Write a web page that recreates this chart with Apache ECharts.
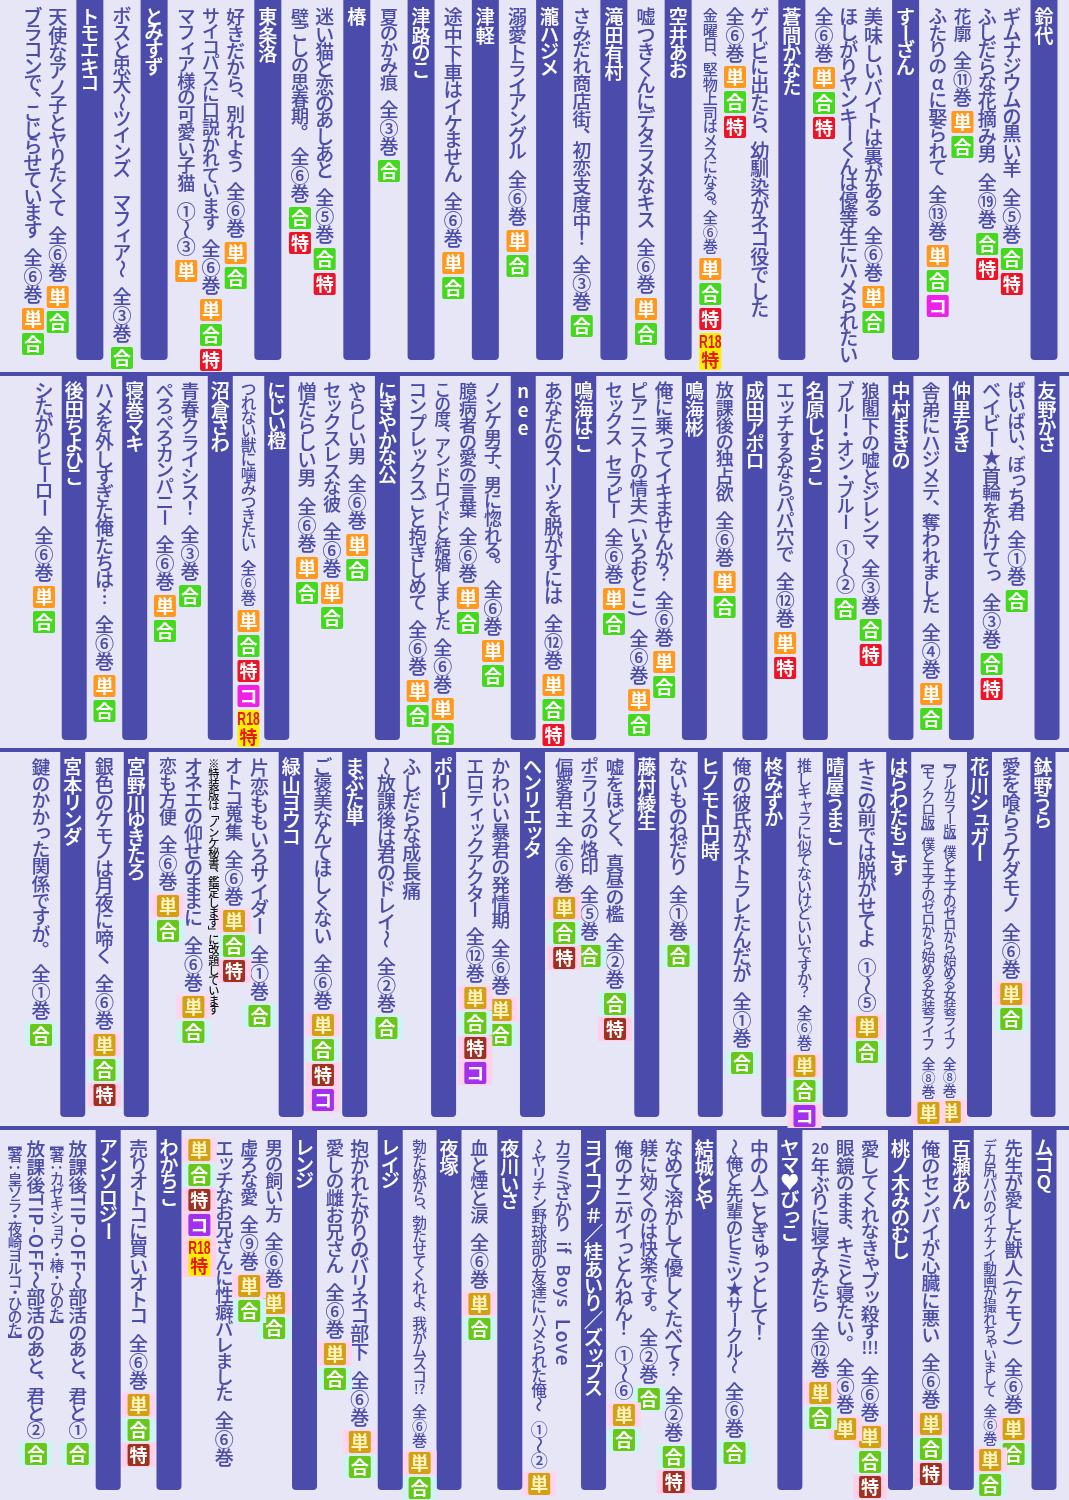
<!DOCTYPE html>
<html>
<head>
<meta charset="utf-8">
<script src="https://cdn.jsdelivr.net/npm/echarts@6/dist/echarts.min.js"></script>
<style>
html,body{margin:0;padding:0;background:#e6e6f6}
#main{width:1069px;height:1500px}
</style>
</head>
<body>
<div id="main"></div>
<script>
// a = author bar, t = title column: text, badges (R = R18特), depth where the text run ends
const ROW_1 = [
  ['a','鈴代'],
  ['t','ギムナジウムの黒い羊 全⑤巻','合特',248],
  ['t','ふしだらな花摘み男 全⑲巻','合特',233],
  ['t','花廓 全⑪巻','単合',111],
  ['t','ふたりのαに娶られて 全⑬巻','単合コ',245],
  ['a','すーざん'],
  ['t','美味しいバイトは裏がある 全⑥巻','単合',286],
  ['t','ほしがりヤンキーくんは優等生にハメられたい','',367],
  ['t','全⑥巻','単合特',67],
  ['a','蒼間かなた'],
  ['t','ゲイビに出たら、幼馴染がネコ役でした','',321],
  ['t','全⑥巻','単合特',66],
  ['t','金曜日、堅物上司はメスになる。全⑥巻','単合特R',258],
  ['a','空井あお'],
  ['t','嘘つきくんにデタラメなキス 全⑥巻','単合',298],
  ['a','滝田有村'],
  ['t','さみだれ商店街、初恋支度中！ 全③巻','合',315],
  ['a','瀧ハジメ'],
  ['t','溺愛トライアングル 全⑥巻','単合',230],
  ['a','津軽'],
  ['t','途中下車はイケません 全⑥巻','単合',252],
  ['a','津路のこ'],
  ['t','夏のかみ痕 全③巻','合',160],
  ['a','椿'],
  ['t','迷い猫と恋のあしあと 全⑤巻','合特',248],
  ['t','壁ごしの思春期。 全⑥巻','合特',207],
  ['a','東条洛'],
  ['t','好きだから、別れよう 全⑥巻','単合',242],
  ['t','サイコパスに口説かれています 全⑥巻','単合特',299],
  ['t','マフィア様の可愛い子猫 ①～③','単',260],
  ['a','とみすず'],
  ['t','ボスと忠犬～ツインズ　マフィア～ 全③巻','合',347],
  ['a','トモエキコ'],
  ['t','天使なアノ子とヤりたくて 全⑥巻','単合',286],
  ['t','ブラコンで、こじらせています 全⑥巻','単合',308]
];
const ROW_2 = [
  ['a','友野かさ'],
  ['t','ばいばい、ぼっち君 全①巻','合',214],
  ['t','ベイビー★首輪をかけてっ 全③巻','合特',277],
  ['a','仲里ちき'],
  ['t','舎弟にハジメテ、奪われました 全④巻','単合',307],
  ['a','中村まきの'],
  ['t','狼閣下の嘘とジレンマ 全③巻','合特',243],
  ['t','ブルー・オン・ブルー ①～②','合',222],
  ['a','名原しょうこ'],
  ['t','エッチするならパパ穴で 全⑫巻','単特',256],
  ['a','成田アポロ'],
  ['t','放課後の独占欲 全⑥巻','単合',195],
  ['a','鳴海彬'],
  ['t','俺に乗ってイキませんか？ 全⑥巻','単合',275],
  ['t','ピアニストの情夫(いろおとこ) 全⑥巻','単合',313],
  ['t','セックス セラピー 全⑥巻','単合',212],
  ['a','鳴海はこ'],
  ['t','あなたのスーツを脱がすには 全⑫巻','単合特',298],
  ['a','nee'],
  ['t','ノンケ男子、男に惚れる。 全⑥巻','単合',264],
  ['t','臆病者の愛の言葉 全⑥巻','単合',211],
  ['t','この度、アンドロイドと結婚しました 全⑥巻','単合',322],
  ['t','コンプレックスごと抱きしめて 全⑥巻','単合',304],
  ['a','にぎやかな公'],
  ['t','やらしい男 全⑥巻','単合',158],
  ['t','セックスレスな彼 全⑥巻','単合',206],
  ['t','憎たらしい男 全⑥巻','単合',181],
  ['a','にじい橙'],
  ['t','つれない獣に噛みつきたい 全⑥巻','単合特コR',234],
  ['a','沼倉さわ'],
  ['t','青春クライシス！ 全③巻','合',209],
  ['t','ぺろぺろカンパニー 全⑥巻','単合',219],
  ['a','寝巻マキ'],
  ['t','ハメを外しすぎた俺たちは… 全⑥巻','単合',299],
  ['a','後田ちよひこ'],
  ['t','シたがりヒーロー 全⑥巻','単合',210]
];
const ROW_3 = [
  ['a','鉢野うら'],
  ['t','愛を喰らうケダモノ 全⑥巻','単合',231],
  ['a','花川シュガー'],
  ['t','【フルカラー版】僕と王子のゼロから始める女装ライフ 全⑧巻','単',349],
  ['t','【モノクロ版】僕と王子のゼロから始める女装ライフ 全⑧巻','単',350],
  ['a','はらわたもこす'],
  ['t','キミの前では脱がせてよ ①～⑤','単合',264],
  ['a','晴屋うまこ'],
  ['t','推しキャラに似てないけどいいですか？ 全⑥巻','単合コ',303],
  ['a','柊みずか'],
  ['t','俺の彼氏がネトラレたんだが 全①巻','合',300],
  ['a','ヒノモト円時'],
  ['t','ないものねだり 全①巻','合',193],
  ['a','藤村綾生'],
  ['t','嘘をほどく、真昼の檻 全②巻','合特',241],
  ['t','ポラリスの烙印 全⑤巻','合',193],
  ['t','偏愛君主 全⑥巻','単合特',145],
  ['a','ヘンリエッタ'],
  ['t','かわいい暴君の発情期 全⑥巻','単合',247],
  ['t','エロティックアクター 全⑫巻','単合特コ',235],
  ['a','ポリー'],
  ['t','ふしだらな成長痛','',152],
  ['t','～放課後は君のドレイ～ 全②巻','合',265],
  ['a','まぶた単'],
  ['t','ご褒美なんてほしくない 全⑥巻','単合特コ',262],
  ['a','緑山ヨウコ'],
  ['t','片恋ももいろサイダー 全①巻','合',253],
  ['t','オトコ蒐集 全⑥巻','単合特',158],
  ['t','※特装版は「ノンケ秘書、鑑定します」に改題しています','',267],
  ['t','オネエの仰せのままに 全⑥巻','単合',244],
  ['t','恋も方便 全⑥巻','単合',143],
  ['a','宮野川ゆきたろ'],
  ['t','銀色のケモノは月夜に啼く 全⑥巻','単合特',282],
  ['a','宮本リンダ'],
  ['t','鍵のかかった関係ですが。 全①巻','合',272]
];
const ROW_4 = [
  ['a','ムコQ'],
  ['t','先生が愛した獣人(ケモノ) 全⑥巻','単合',288],
  ['t','デカ尻パパのイケナイ動画が撮れちゃいまして 全⑥巻','単合',319],
  ['a','百瀬あん'],
  ['t','俺のセンパイが心臓に悪い 全⑥巻','単合特',283],
  ['a','桃ノ木みのむし'],
  ['t','愛してくれなきゃブッ殺す!!! 全⑥巻','単合特',296],
  ['t','眼鏡のまま、キミと寝たい。 全⑥巻','単',288],
  ['t','20年ぶりに寝てみたら 全⑫巻','単合',252],
  ['a','ヤマ♥びっこ'],
  ['t','中の人ごとぎゅっとして！','',214],
  ['t','～俺と先輩のヒミツ★サークル～ 全⑥巻','合',312],
  ['a','結城とや'],
  ['t','なめて溶かして優しくたべて？ 全②巻','合特',316],
  ['t','躾に効くのは快楽です。 全②巻','合',258],
  ['t','俺のナニがイっとんねん！ ①～⑥','単合',274],
  ['a','ヨイコノ＃／桂あいり／ズップス'],
  ['t','カラミざかり if Boys Love','',240],
  ['t','～ヤリチン野球部の友達にハメられた俺～ ①～②','単',343],
  ['a','夜川いさ'],
  ['t','血と煙と涙 全⑥巻','単合',163],
  ['a','夜塚'],
  ['t','勃たぬから、勃たせてくれよ、我がムスコ!? 全⑥巻','単合',322],
  ['a','レイジ'],
  ['t','抱かれたがりのバリネコ部下 全⑥巻','単合',301],
  ['t','愛しの雌お兄さん 全⑥巻','単合',213],
  ['a','レンジ'],
  ['t','男の飼い方 全⑥巻','単合',162],
  ['t','虚ろな愛 全⑨巻','単合',145],
  ['t','エッチなお兄さんに性癖バレました 全⑥巻','',341],
  ['t','','単合特コR',9],
  ['a','わかちこ'],
  ['t','売りオトコに買いオトコ 全⑥巻','単合特',264],
  ['a','アンソロジー'],
  ['t','放課後TIP-OFF～部活のあと、君と①','合',313],
  ['t','【著：カゼキショウ・椿・ひのた】','',204],
  ['t','放課後TIP-OFF～部活のあと、君と②','合',313],
  ['t','【著：皇ソラ・夜崎ヨルコ・ひのた】','',219]
];
const ROWS = [ROW_1, ROW_2, ROW_3, ROW_4];

// layout of each band: plot top, bar depth, where text starts, centres of the first and last column
const BANDS = [
  {top:0,    depth:360, start:8,   first:1044, last:33, barW:27, slotW:40,   soft:false},
  {top:376,  depth:364, start:6,   first:1047, last:44, barW:25, slotW:35.2, soft:false},
  {top:752,  depth:365, start:6,   first:1043, last:41, barW:25, slotW:37.5, soft:true},
  {top:1130, depth:360, start:9.5, first:1044, last:15, barW:25, slotW:36,   soft:true}
];
// titles set smaller than the rest
const SMALL_TITLES = {
  '金曜日、堅物上司はメスになる。全⑥巻':{scale:.8},
  'つれない獣に噛みつきたい 全⑥巻':{scale:.84,w:21},
  '推しキャラに似てないけどいいですか？ 全⑥巻':{scale:.82,w:23},
  '【フルカラー版】僕と王子のゼロから始める女装ライフ 全⑧巻':{scale:.73,w:21},
  '【モノクロ版】僕と王子のゼロから始める女装ライフ 全⑧巻':{scale:.74,w:21},
  '※特装版は「ノンケ秘書、鑑定します」に改題しています':{scale:.6,w:15,color:'#111'},
  'デカ尻パパのイケナイ動画が撮れちゃいまして 全⑥巻':{scale:.74,w:22},
  '勃たぬから、勃たせてくれよ、我がムスコ!? 全⑥巻':{scale:.8,w:23},
  '～ヤリチン野球部の友達にハメられた俺～ ①～②':{scale:.9,w:23},
  '【著：カゼキショウ・椿・ひのた】':{scale:.76,w:17},
  '【著：皇ソラ・夜崎ヨルコ・ひのた】':{scale:.79,w:17}
};

const FONT = '"Noto Sans CJK JP"';
const INK = '#4b4ba8';
const BAR = '#4b4bab';
const BADGE_HARD = {'単':'#ff981c','合':'#46d81e','特':'#ec1426','コ':'#ee22e4'};
const BADGE_SOFT = {'単':'#d2a012','合':'#68c81a','特':'#a0301f','コ':'#a430ee'};
const HALO = {'単':'#ffd4ec','合':'#cff2f2','特':'#ffd0ea','コ':'#ffd0ea','R':'#ffd0ea'};
const STEP = {kanji:18.3, kana:16.7, punct:13, bang:15, space:11, wide:18, bracket:12, badge:25, tall:40};
const measure = document.createElement('canvas').getContext('2d');

function widthOf(c, band){
  if(c[0]==='a') return band.slotW;
  const look = SMALL_TITLES[c[1]];
  return look && look.w ? look.w : 25;
}
function slotsFor(cols, band){
  const out=[]; let x=0;
  cols.forEach((c,i)=>{
    if(i>0) x += (widthOf(cols[i-1],band)+widthOf(c,band))/2;
    out.push(x);
  });
  return out;
}

function advanceOf(t, s, font, upright){
  if(t===' ') return STEP.space*s;
  if(t==='　') return STEP.wide*s;
  if(/^[!?]+$/.test(t)) return 17*s;
  if(/[、。]/.test(t)) return STEP.punct*s;
  if(/[！？]/.test(t)) return STEP.bang*s;
  if(t==='・') return STEP.bracket*s;
  if(/[「」【】（）()：]/.test(t)) return STEP.bracket*s;
  if(/[A-Za-z\-]/.test(t) && !upright){
    measure.font = font;
    return measure.measureText(t).width+1;
  }
  if(/[\u3040-\u30ff～〜…―]/.test(t)) return STEP.kana*s;
  return STEP.kanji*s;
}

// one vertical run of text; when target is given the title part is tracked to end there
function setVertical(text, cx, y, target, opt){
  const s = opt.scale, base = 19*s, items = [];
  const thick = s<.95 ? 0 : opt.thick;
  const fontAt = px=>`500 ${px}px ${FONT}`;
  const tokens = text.match(/\d\d|[!?]+|[\s\S]/gu) || [];
  const advs = tokens.map(t=>advanceOf(t,s,fontAt(base),opt.upright));
  let tail = tokens.lastIndexOf('全');
  if(tail<0) tail = tokens.lastIndexOf(' ');
  if(tail<0) tail = tokens.length;
  const head = advs.slice(0,tail).reduce((a,b)=>a+b,0);
  const rest = advs.slice(tail).reduce((a,b)=>a+b,0);
  let track = 1;
  if(target!=null && head>0) track = Math.min(1.15,Math.max(.82,(target-y-rest)/head));
  tokens.forEach((t,i)=>{
    const inHead = i<tail;
    const adv = advs[i]*(inHead?track:1), mid = y+adv/2;
    // squeezed titles get a smaller glyph so neighbours do not collide
    const fs = inHead&&track<1 ? base*Math.max(track,.86) : base;
    const put = (x,yy,rot,px)=>items.push({type:'text',x,y:yy,rotation:rot||0,
      style:{text:t,fill:opt.color,stroke:thick?opt.color:null,lineWidth:thick,font:fontAt(px||fs),align:'center',verticalAlign:'middle'},silent:true});
    if(t===' '||t==='　'){}
    else if(/^\d\d$/.test(t)) put(cx,mid,0,fs*.8);
    else if(/^[!?]+$/.test(t)) put(cx,mid,0,fs*.9);
    else if(/[、。]/.test(t)) put(cx+fs*.56,mid-fs*.5);
    else if(/[「」【】（）()：ー～〜…―\-]/.test(t)) put(cx,mid,-Math.PI/2);
    else if(/[A-Za-z]/.test(t) && !opt.upright) put(cx,mid,-Math.PI/2);
    else if(/[ぁぃぅぇぉっゃゅょァィゥェォッャュョ]/.test(t)) put(cx+fs*.12,mid-fs*.1);
    else put(cx,mid);
    y += adv;
  });
  return items;
}

function badgeItems(marks, cx, y, soft){
  const items=[], colors = soft?BADGE_SOFT:BADGE_HARD;
  for(const m of marks){
    if(soft) items.push({type:'rect',shape:{x:cx-17,y:y-1.5,width:34,height:(m==='R'?STEP.tall:STEP.badge)-0.5},style:{fill:HALO[m]},silent:true});
    if(m==='R'){
      items.push({type:'rect',shape:{x:cx-11,y:y,width:22,height:37,r:2},style:{fill:'#ffee00'},silent:true});
      items.push({type:'text',x:cx,y:y+10,scaleX:.68,style:{text:'R18',fill:'#e41a1a',font:`bold 18px "Liberation Sans"`,align:'center',verticalAlign:'middle'},silent:true});
      items.push({type:'text',x:cx,y:y+27,style:{text:'特',fill:'#e41a1a',font:`bold 18px ${FONT}`,align:'center',verticalAlign:'middle'},silent:true});
      y += STEP.tall;
    }else{
      items.push({type:'rect',shape:{x:cx-11,y:y,width:22,height:22,r:2},style:{fill:colors[m]},silent:true});
      items.push({type:'text',x:cx,y:y+11,style:{text:m,fill:soft&&m==='単'?'#fff4c0':'#fff',font:`bold 18px ${FONT}`,align:'center',verticalAlign:'middle'},silent:true});
      y += STEP.badge;
    }
  }
  return items;
}

function columnRenderer(cols, band){
  return function(params, api){
    const c = cols[params.dataIndex];
    const top = api.coord([api.value(0), 0]);
    const end = api.coord([api.value(0), api.value(1)]);
    const cx = top[0], y0 = top[1]+band.start;
    if(c[0]==='a'){
      const label = setVertical(c[1], cx, y0, null, {scale:1,color:'#fff',upright:true,thick:.2});
      return {type:'group',children:[
        {type:'rect',shape:{x:cx-band.barW/2,y:top[1],width:band.barW,height:end[1]-top[1],r:[0,0,4,4]},style:{fill:BAR},silent:true}
      ].concat(label)};
    }
    const look = SMALL_TITLES[c[1]] || {};
    const label = setVertical(c[1], cx, y0, end[1]-4, {scale:look.scale||1,color:look.color||INK,thick:.12});
    return {type:'group',children:badgeItems(c[2],cx,end[1],band.soft).concat(label)};
  };
}

const grid=[], xAxis=[], yAxis=[], series=[];
ROWS.forEach((cols,i)=>{
  const band = BANDS[i], slots = slotsFor(cols,band);
  grid.push({left:band.last,right:1069-band.first,top:band.top,height:band.depth});
  xAxis.push({gridIndex:i,type:'value',inverse:true,min:0,max:slots[slots.length-1],show:false});
  yAxis.push({gridIndex:i,type:'value',inverse:true,min:0,max:band.depth,show:false});
  series.push({
    type:'custom',xAxisIndex:i,yAxisIndex:i,clip:false,silent:true,animation:false,
    encode:{x:0,y:1},
    data:cols.map((c,k)=>[slots[k], c[0]==='a'?band.depth:c[3]]),
    renderItem:columnRenderer(cols,band)
  });
});

const chart = echarts.init(document.getElementById('main'));
chart.setOption({
  backgroundColor:'#e6e6f6',
  animation:false,
  grid,xAxis,yAxis,series,
  graphic:[372,748,1126].map(y=>({type:'rect',silent:true,z:-1,shape:{x:0,y:y,width:1069,height:4},style:{fill:BAR}}))
});
</script>
</body>
</html>
